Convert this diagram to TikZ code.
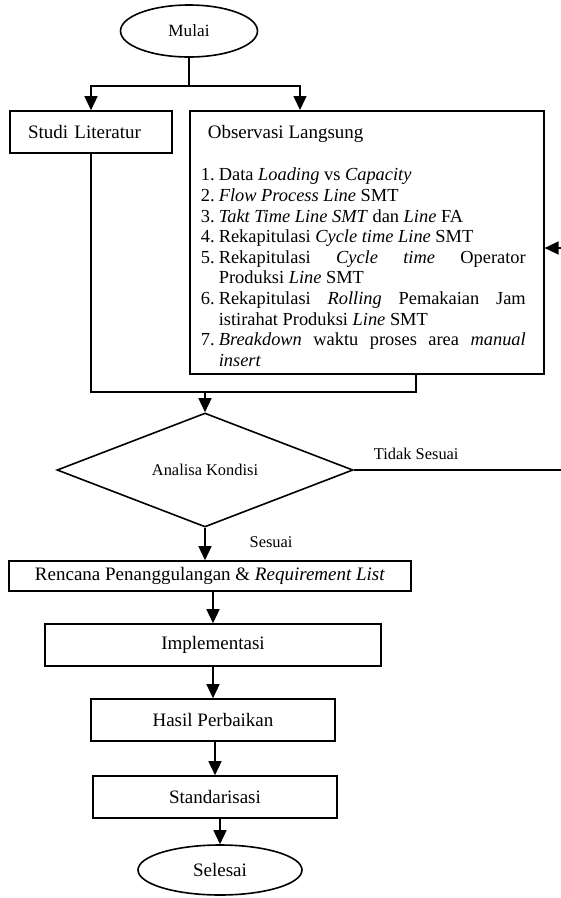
\documentclass[tikz,border=0pt]{standalone}
\usepackage{fontspec}
\setmainfont{Liberation Serif}
\usetikzlibrary{arrows.meta,shapes.geometric}
\newcommand{\obsitem}[2]{\noindent\hangindent=18pt\hangafter=1\makebox[18pt][l]{#1}#2\par}
\newcommand{\listfont}{\fontsize{18.4}{20.6}\selectfont\tolerance=9999\hyphenpenalty=10000\rightskip=7pt}

\begin{document}
\begin{tikzpicture}[x=1pt, y=-1pt, line width=1.4pt, >={Triangle[length=14pt,width=13pt]},
  every node/.style={align=center, font=\fontsize{19}{23}\selectfont},
  procbox/.style={draw, line width=1.6pt, rectangle, inner sep=0pt},
  terminal/.style={draw, line width=1.6pt, ellipse, inner sep=0pt},
  decision/.style={draw, line width=1.6pt, diamond, inner sep=0pt, aspect=2.6},
  edgelabel/.style={inner sep=0pt, font=\fontsize{16.4}{19}\selectfont}]
\useasboundingbox (0,0) rectangle (561,898);
\node (mulai) [terminal, minimum width=137pt, minimum height=52pt, font=\fontsize{17.2}{20}\selectfont] at (189,31) {Mulai};
\node (studi) [procbox, minimum width=162pt, minimum height=42pt, text width=126pt, inner xsep=18pt, align=left] at (91,132) {Studi Literatur};
\node (obs) [procbox, anchor=north west, minimum width=354pt, text width=332pt, inner xsep=11pt, align=justify] at (189,110) {%
\rule{0pt}{28pt}\hspace*{7pt}Observasi Langsung\par
\vspace{21.4pt}
{\listfont
\obsitem{1.}{Data \textit{Loading} vs \textit{Capacity}}
\obsitem{2.}{\textit{Flow Process Line} SMT}
\obsitem{3.}{\textit{Takt Time Line SMT} dan \textit{Line} FA}
\obsitem{4.}{Rekapitulasi \textit{Cycle time Line} SMT}
\obsitem{5.}{Rekapitulasi \textit{Cycle time} Operator Produksi \textit{Line} SMT}
\obsitem{6.}{Rekapitulasi \textit{Rolling} Pemakaian Jam istirahat Produksi \textit{Line} SMT}
\obsitem{7.}{\textit{Breakdown} waktu proses area \textit{manual insert}\rule[-8pt]{0pt}{8pt}}
}};
\node (analisa) [decision, minimum width=296pt, minimum height=114pt, font=\fontsize{16.4}{19}\selectfont] at (205,470) {Analisa Kondisi};
\node (rencana) [procbox, minimum width=402pt, minimum height=30pt] at (210,576) {Rencana Penanggulangan \& \textit{Requirement List}};
\node (impl) [procbox, minimum width=336pt, minimum height=42pt] at (213,645) {Implementasi};
\node (hasil) [procbox, minimum width=244pt, minimum height=42pt] at (213,720) {Hasil Perbaikan};
\node (stand) [procbox, minimum width=244pt, minimum height=42pt] at (215,797) {Standarisasi};
\node (selesai) [terminal, minimum width=164pt, minimum height=50pt] at (220,870) {Selesai};
% junctions
\coordinate (split) at (189,86);
\coordinate (obsin) at (300,110);
\coordinate (obsjoin) at (416,392);
\coordinate (obsbot) at (416,373);
\coordinate (merge) at (205,392);
\coordinate (tsturn) at (562,470);
\coordinate (tsback) at (562,248);
\draw (mulai) -- (split);
\draw[->] (split) -| (studi);
\draw[->] (split) -| (obsin);
\draw (studi) |- (obsjoin) -- (obsbot);
\draw[->] (merge) -- (analisa);
\draw[->] (analisa.east) -- node[edgelabel, pos=0.3, anchor=base, yshift=11pt] {Tidak Sesuai} (tsturn) -- (tsback) -- (tsback -| obs.east);
\draw[->] (analisa.south) -- node[edgelabel, pos=0.62, anchor=base west, xshift=44pt] {Sesuai} (analisa.south |- rencana.north);
\draw[->] (rencana.south -| impl) -- (impl);
\draw[->] (impl.south -| hasil) -- (hasil);
\draw[->] (hasil.south -| stand) -- (stand);
\draw[->] (stand.south -| selesai) -- (selesai);
\end{tikzpicture}
\end{document}
